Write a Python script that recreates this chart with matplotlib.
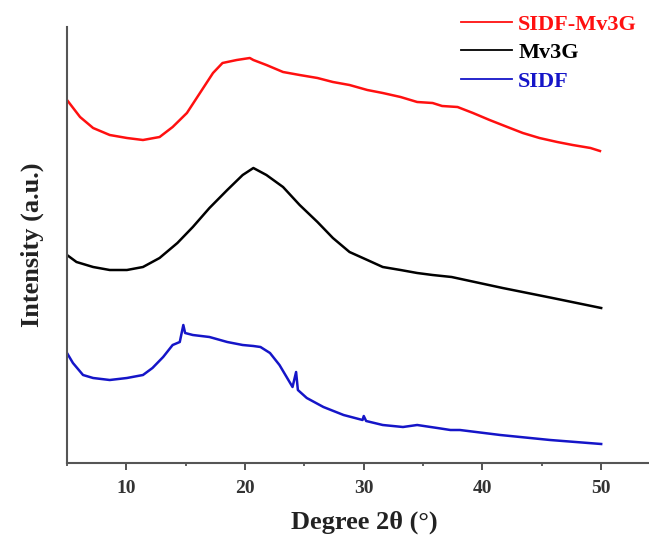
import matplotlib
matplotlib.use('Agg')
import matplotlib.pyplot as plt
from matplotlib.ticker import MultipleLocator

# values (2theta in degrees, intensity in a.u.)
deg_sidf_mv3g = [5.0, 6.1, 7.2, 8.6, 10.05, 11.4, 12.8, 13.9, 15.1, 16.2, 17.3, 18.1,
                 19.3, 20.4, 20.7, 21.8, 23.2, 24.6, 26.1, 27.4, 28.8, 30.3, 31.6,
                 33.1, 34.5, 35.8, 36.6, 37.9, 39.2, 40.6, 42.1, 43.4, 44.8, 46.3,
                 47.6, 49.1, 49.9]
int_sidf_mv3g = [363, 346, 335, 328, 325, 323, 326, 336, 350, 370, 390, 400,
                 403, 405, 403, 398, 391, 388, 385, 381, 378, 373, 370,
                 366, 361, 360, 357, 356, 350, 343, 336, 330, 325, 321,
                 318, 315, 312]

deg_mv3g = [5.0, 5.8, 7.2, 8.6, 10.05, 11.4, 12.8, 14.3, 15.6, 17.0, 18.5, 19.8,
            20.7, 21.8, 23.2, 24.6, 26.1, 27.4, 28.8, 30.3, 31.6, 33.1, 34.5,
            35.8, 37.4, 41.7, 45.9, 50.0]
int_mv3g = [208, 201, 196, 193, 193, 196, 205, 220, 236, 255, 273, 288,
            295, 288, 276, 258, 241, 225, 211, 203, 196, 193, 190,
            188, 186, 175, 165, 155]

deg_sidf = [5.0, 5.5, 6.35, 7.2, 8.6, 10.05, 11.4, 12.2, 13.1, 13.9, 14.5, 14.8,
            14.95, 15.6, 17.0, 18.5, 19.8, 20.7, 21.3, 22.1, 22.9, 23.8, 24.0,
            24.3, 24.45, 25.2, 26.6, 28.3, 29.9, 30.0, 30.2, 31.6, 33.3, 34.5,
            36.2, 37.3, 38.1, 41.5, 45.7, 50.0]
int_sidf = [110, 100, 88, 85, 83, 85, 88, 95, 106, 118, 121, 138,
            130, 128, 126, 121, 118, 117, 116, 110, 98, 80, 76,
            91, 73, 65, 56, 48, 43, 47, 42, 38, 36, 38,
            35, 33, 33, 28, 23, 19]

labels = ['SIDF-Mv3G', 'Mv3G', 'SIDF']
colors = ['#ff1010', '#000000', '#1515c8']

plt.rcParams['font.family'] = ['Liberation Serif', 'DejaVu Serif']
plt.rcParams['font.weight'] = 'bold'

fig = plt.figure(figsize=(6.49, 5.38), dpi=100)
ax = fig.add_axes([67/649, 75/538, 582/649, 436/538])

ax.plot(deg_sidf_mv3g, int_sidf_mv3g, color=colors[0], lw=1.8, label=labels[0])
ax.plot(deg_mv3g, int_mv3g, color=colors[1], lw=1.8, label=labels[1])
ax.plot(deg_sidf, int_sidf, color=colors[2], lw=1.8, label=labels[2])

ax.set_xlim(5, 54.03)
ax.set_ylim(0, 436)
ax.set_yticks([])
ax.xaxis.set_major_locator(MultipleLocator(10))
ax.xaxis.set_minor_locator(MultipleLocator(5))
ax.tick_params(axis='x', which='major', direction='out', length=5, width=1.3,
               pad=7, labelsize=14, colors='#444444', labelcolor='#333333')
ax.tick_params(axis='x', which='minor', direction='out', length=2.5, width=1.2,
               colors='#444444')
for lbl in ax.get_xticklabels():
    lbl.set_fontweight('bold')

for side in ['top', 'right']:
    ax.spines[side].set_visible(False)
for side in ['left', 'bottom']:
    ax.spines[side].set_linewidth(1.5)
    ax.spines[side].set_color('#555555')

ax.set_xlabel('Degree 2θ (°)', fontsize=19, fontweight='bold', color='#222222')
ax.xaxis.set_label_coords((364 - 67) / 582, (463 - 511) / 436)
ax.set_ylabel('Intensity (a.u.)', fontsize=19, fontweight='bold', color='#222222')
ax.yaxis.set_label_coords(-(67 - 44) / 582, 0.5)

leg = ax.legend(loc='upper left', bbox_to_anchor=(461/649, 1 - 14/538),
                bbox_transform=fig.transFigure, frameon=False, fontsize=16,
                handlelength=2.3, handletextpad=0.27, labelspacing=0.36,
                borderaxespad=0, borderpad=0)
for txt, c in zip(leg.get_texts(), colors):
    txt.set_color(c)
    txt.set_fontweight('bold')
for h in leg.get_lines():
    h.set_linewidth(1.3)

fig.savefig('out.png', dpi=100)
